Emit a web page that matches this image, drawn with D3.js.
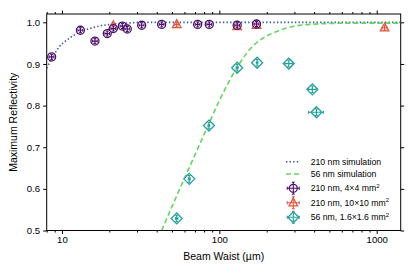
<!DOCTYPE html>
<html>
<head>
<meta charset="utf-8">
<script src="https://d3js.org/d3.v7.min.js"></script>
<style>
  body { margin: 0; background: #fff; }
  svg { display: block; font-family: "Liberation Sans", Arial, sans-serif; }
  .axis path { stroke: #000; }
  .axis line { stroke: #000; }
  .axis text { font-size: 9.6px; fill: #000; }
</style>
</head>
<body>
<div id="chart"></div>
<script>
// simulation curves
const sim210X = [8, 8.85, 9.6, 10.8, 13.1, 16.0, 20.2, 25.9, 31.8, 60, 1420];
const sim210Y = [0.89, 0.92, 0.941, 0.958, 0.977, 0.988, 0.995, 0.998, 1.0, 1.0, 1.0];
const sim56X = [43, 52.3, 65.1, 81.0, 100.9, 129.3, 163.4, 180.9, 231.9, 293, 375, 481, 700, 1420];
const sim56Y = [0.5, 0.574, 0.655, 0.735, 0.815, 0.891, 0.943, 0.957, 0.978, 0.99, 0.995, 0.997, 0.998, 0.998];

// 210 nm, 4x4 mm2
const p210X = [8.6, 13.1, 16.2, 19.4, 21.2, 24.2, 26.0, 32.1, 43.0, 72.8, 86.3, 129.8, 172.3];
const p210Y = [0.917, 0.981, 0.955, 0.973, 0.985, 0.991, 0.984, 0.993, 0.995, 0.995, 0.995, 0.993, 0.996];
const p210XErr = [0.3, 0.45, 0.55, 0.65, 0.7, 0.8, 0.9, 1.1, 1.5, 2.5, 3, 4.5, 6];
const p210YErr = [0.006, 0.006, 0.006, 0.006, 0.006, 0.006, 0.006, 0.006, 0.006, 0.006, 0.006, 0.006, 0.006];

// 210 nm, 10x10 mm2
const t210X = [21.2, 53.6, 129.8, 172.3, 1122];
const t210Y = [0.992, 0.995, 0.99, 0.993, 0.987];
const t210XErr = [0.7, 1.8, 4.5, 6, 38];
const t210YErr = [0.006, 0.006, 0.006, 0.006, 0.006];

// 56 nm, 1.6x1.6 mm2
const d56X = [53.6, 64.4, 85.9, 129.8, 173.8, 276, 390, 414];
const d56Y = [0.529, 0.624, 0.752, 0.891, 0.903, 0.901, 0.839, 0.784];
const d56XErr = [1, 1, 1, 2, 2, 16, 22, 45];
const d56YErr = [0.008, 0.008, 0.008, 0.008, 0.008, 0.008, 0.008, 0.008];

const xMajor = [10, 100, 1000];
const xMinor = [8, 9, 20, 30, 40, 50, 60, 70, 80, 90, 200, 300, 400, 500, 600, 700, 800, 900];
const yTicks = [0.5, 0.6, 0.7, 0.8, 0.9, 1.0];

const legendLabels = ["210 nm simulation", "56 nm simulation", "210 nm, 4×4 mm", "210 nm, 10×10 mm", "56 nm, 1.6×1.6 mm"];

const width = 415, height = 277;
const margin = {top: 14, right: 14.3, bottom: 46.5, left: 46.7};
const W = width - margin.left - margin.right;
const H = height - margin.top - margin.bottom;

const cPurple = "#4b0f6b", cRed = "#e0583f", cTeal = "#26a09a";
const cBlue = "#3b55a6", cGreen = "#66d35f";

const svg = d3.select("#chart").append("svg")
  .attr("width", width).attr("height", height);

const x = d3.scaleLog().domain([8, 1420]).range([0, W]);
const y = d3.scaleLinear().domain([0.5, 1.02]).range([H, 0]);

const g = svg.append("g").attr("transform", `translate(${margin.left},${margin.top})`);

const clip = svg.append("clipPath").attr("id", "clip")
  .append("rect").attr("width", W).attr("height", H);

// axes
function xAxes(axisFn, ty) {
  g.append("g").attr("class", "axis").attr("transform", `translate(0,${ty})`)
    .call(axisFn(x).tickValues(xMinor).tickSize(2).tickFormat(""))
    .call(a => a.select(".domain").remove());
  const a = g.append("g").attr("class", "axis").attr("transform", `translate(0,${ty})`)
    .call(axisFn(x).tickValues(xMajor).tickSize(3.5).tickPadding(2.5)
      .tickFormat(ty === H ? d3.format("d") : ""));
  a.select(".domain").remove();
}
xAxes(d3.axisBottom, H);
xAxes(d3.axisTop, 0);

g.append("g").attr("class", "axis")
  .call(d3.axisLeft(y).tickValues(yTicks).tickSize(3.5).tickPadding(3).tickFormat(d3.format(".1f")))
  .call(a => a.select(".domain").remove());
g.append("g").attr("class", "axis").attr("transform", `translate(${W},0)`)
  .call(d3.axisRight(y).tickValues(yTicks).tickSize(3.5).tickFormat(""))
  .call(a => a.select(".domain").remove());

g.append("rect").attr("width", W).attr("height", H)
  .attr("fill", "none").attr("stroke", "#000").attr("stroke-width", 1);

// curves
const plot = g.append("g").attr("clip-path", "url(#clip)");
const line = d3.line().x(d => x(d[0])).y(d => y(d[1])).curve(d3.curveMonotoneX);

plot.append("path").datum(d3.zip(sim210X, sim210Y))
  .attr("d", line).attr("fill", "none").attr("stroke", cBlue)
  .attr("stroke-width", 1.6).attr("stroke-dasharray", "1.4,2.2");
plot.append("path").datum(d3.zip(sim56X, sim56Y))
  .attr("d", line).attr("fill", "none").attr("stroke", cGreen)
  .attr("stroke-width", 1.6).attr("stroke-dasharray", "5,3");

// markers
function markerPath(shape, r) {
  if (shape === "circle") return d3.symbol(d3.symbolCircle, Math.PI * r * r)();
  if (shape === "triangle") return `M0,${-r * 1.1}L${r},${r * 0.75}L${-r},${r * 0.75}Z`;
  return `M0,${-r}L${r},0L0,${r}L${-r},0Z`;
}

function series(xs, ys, xe, ye, color, shape, r) {
  const data = xs.map((v, i) => ({x: v, y: ys[i], xe: xe[i], ye: ye[i]}));
  const s = plot.append("g");
  const pt = s.selectAll("g").data(data).join("g");
  pt.append("path")
    .attr("transform", d => `translate(${x(d.x)},${y(d.y)})`)
    .attr("d", markerPath(shape, r))
    .attr("fill", "#fff").attr("fill-opacity", 0.6)
    .attr("stroke", color).attr("stroke-width", 1.3);
  // error bars
  pt.append("line")
    .attr("x1", d => x(d.x)).attr("x2", d => x(d.x))
    .attr("y1", d => y(d.y - d.ye)).attr("y2", d => y(d.y + d.ye))
    .attr("stroke", color).attr("stroke-width", 1.2);
  pt.append("line")
    .attr("x1", d => x(d.x - d.xe)).attr("x2", d => x(d.x + d.xe))
    .attr("y1", d => y(d.y)).attr("y2", d => y(d.y))
    .attr("stroke", color).attr("stroke-width", 1.2);
  [-1, 1].forEach(sg => {
    pt.append("line")
      .attr("x1", d => x(d.x) - 1.5).attr("x2", d => x(d.x) + 1.5)
      .attr("y1", d => y(d.y + sg * d.ye)).attr("y2", d => y(d.y + sg * d.ye))
      .attr("stroke", color).attr("stroke-width", 1);
    pt.append("line")
      .attr("x1", d => x(d.x + sg * d.xe)).attr("x2", d => x(d.x + sg * d.xe))
      .attr("y1", d => y(d.y) - 1.5).attr("y2", d => y(d.y) + 1.5)
      .attr("stroke", color).attr("stroke-width", 1);
  });
}

series(t210X, t210Y, t210XErr, t210YErr, cRed, "triangle", 4.3);
series(p210X, p210Y, p210XErr, p210YErr, cPurple, "circle", 4);
series(d56X, d56Y, d56XErr, d56YErr, cTeal, "diamond", 5.5);

// axis labels
svg.append("text").attr("x", margin.left + W / 2).attr("y", 260)
  .attr("text-anchor", "middle").attr("font-size", "10.5px").text("Beam Waist (µm)");
svg.append("text").attr("transform", `translate(17,${margin.top + H / 2}) rotate(-90)`)
  .attr("text-anchor", "middle").attr("font-size", "10.5px").text("Maximum Reflectivity");

// legend
const lg = svg.append("g").attr("font-size", "8.7px");
const rowY = [161.7, 174, 188.3, 202.7, 217.3];
legendLabels.forEach((lab, i) => {
  const t = lg.append("text").attr("x", 310.7).attr("y", rowY[i] + 3).text(lab);
  if (i >= 2) t.append("tspan").attr("dy", -3.5).attr("font-size", "6px").text("2");
});
lg.append("line").attr("x1", 286).attr("x2", 300).attr("y1", rowY[0]).attr("y2", rowY[0])
  .attr("stroke", cBlue).attr("stroke-width", 1.6).attr("stroke-dasharray", "1.4,2.2");
lg.append("line").attr("x1", 286).attr("x2", 300).attr("y1", rowY[1]).attr("y2", rowY[1])
  .attr("stroke", cGreen).attr("stroke-width", 1.6).attr("stroke-dasharray", "5,3");
[[cPurple, "circle", 4], [cRed, "triangle", 4.3], [cTeal, "diamond", 5.5]].forEach((m, i) => {
  const cy = rowY[i + 2], cx = 293.3;
  lg.append("path").attr("transform", `translate(${cx},${cy})`).attr("d", markerPath(m[1], m[2]))
    .attr("fill", "#fff").attr("stroke", m[0]).attr("stroke-width", 1.3);
  lg.append("path").attr("d", `M${cx - 6},${cy}H${cx + 6}M${cx},${cy - 6}V${cy + 6}M${cx - 6},${cy - 1.5}V${cy + 1.5}M${cx + 6},${cy - 1.5}V${cy + 1.5}M${cx - 1.5},${cy - 6}H${cx + 1.5}M${cx - 1.5},${cy + 6}H${cx + 1.5}`)
    .attr("stroke", m[0]).attr("stroke-width", 1.1).attr("fill", "none");
});
</script>
</body>
</html>
